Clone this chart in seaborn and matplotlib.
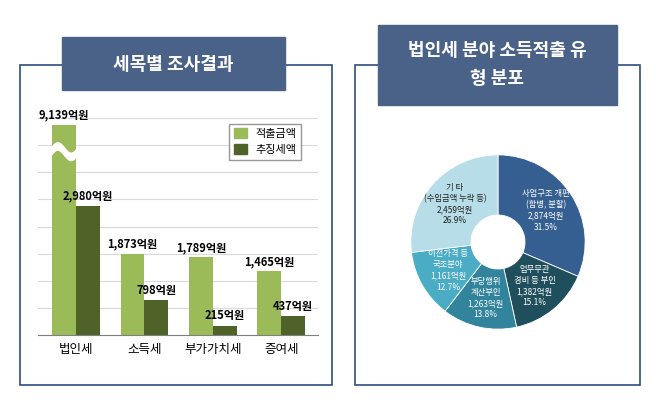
import numpy as np
import matplotlib.pyplot as plt
import matplotlib.patches as mpatches
import seaborn as sns
import pandas as pd

plt.rcParams['font.family'] = ['Noto Sans CJK KR', 'Noto Sans CJK JP', 'Noto Sans CJK SC', 'DejaVu Sans']

# 세목별 조사결과 (억원)
categories = ["법인세", "소득세", "부가가치세", "증여세"]
detected = [9139, 1873, 1789, 1465]     # 적출금액
collected = [2980, 798, 215, 437]       # 추징세액
series_names = ["적출금액", "추징세액"]

# 법인세 분야 소득적출 유형 분포
pie_labels = ["사업구조 개편\n(합병, 분할)", "업무무관\n경비 등 부인", "부당행위\n계산부인",
              "이전가격 등\n국조분야", "기 타\n(수입금액 누락 등)"]
pie_values = [2874, 1382, 1263, 1161, 2459]
pie_pcts = ["31.5%", "15.1%", "13.8%", "12.7%", "26.9%"]

W, H = 656, 408
fig = plt.figure(figsize=(W / 100, H / 100), dpi=100)
fig.patch.set_facecolor('white')

def fx(x): return x / W
def fy(y): return 1 - y / H

banner = '#4a6288'
frame = '#2f4f7f'
# panel frames
for x0, x1 in [(20, 332), (355, 640)]:
    fig.add_artist(mpatches.Rectangle((fx(x0), fy(385)), fx(x1) - fx(x0), fy(65) - fy(385),
                                      transform=fig.transFigure, fill=False, ec=frame, lw=1.2))
# banners
fig.add_artist(mpatches.Rectangle((fx(62), fy(90)), fx(285) - fx(62), fy(37) - fy(90),
                                  transform=fig.transFigure, color=banner, zorder=5))
fig.text(fx(173), fy(64), "세목별 조사결과", color='white', fontsize=13, fontweight='bold',
         ha='center', va='center', zorder=6)
fig.add_artist(mpatches.Rectangle((fx(378), fy(105)), fx(617) - fx(378), fy(25) - fy(105),
                                  transform=fig.transFigure, color=banner, zorder=5))
fig.text(fx(497), fy(65), "법인세 분야 소득적출 유\n형 분포", color='white', fontsize=13,
         fontweight='bold', ha='center', va='center', linespacing=1.6, zorder=6)

# bar chart
ax = fig.add_axes([fx(38), fy(335), fx(318) - fx(38), fy(118) - fy(335)])
df = pd.DataFrame({"세목": categories * 2,
                   "구분": [series_names[0]] * 4 + [series_names[1]] * 4,
                   "값": detected + collected})
top = 4850
df["표시"] = np.minimum(df["값"], top)
sns.barplot(data=df, x="세목", y="표시", hue="구분", palette=['#9bbb59', '#4f6228'],
            width=0.7, ax=ax, legend=False, saturation=1)
ax.set_ylim(0, 5000)
ax.set_yticks(np.arange(625, 5001, 625))
ax.yaxis.grid(True, color='#d9d9d9', lw=0.8)
ax.set_axisbelow(True)
ax.tick_params(axis='y', length=0, labelleft=False)
ax.tick_params(axis='x', length=0, labelsize=9, pad=6)
ax.set_xlabel(""); ax.set_ylabel("")
for s in ['top', 'right', 'left']:
    ax.spines[s].set_visible(False)
ax.spines['bottom'].set_color('#7f7f7f')
for cont, vals in zip(ax.containers, [detected, collected]):
    for rect, v in zip(cont, vals):
        ax.text(rect.get_x() + rect.get_width() / 2, rect.get_height() + 80, f"{v:,}억원",
                ha='center', va='bottom', fontsize=8, fontweight='bold', zorder=5)
# wavy break on the first bar
r = ax.containers[0][0]
xs = np.linspace(r.get_x() - 0.02, r.get_x() + r.get_width() + 0.02, 50)
wave = 4150 + 120 * np.sin((xs - xs[0]) / (xs[-1] - xs[0]) * 2 * np.pi)
ax.fill_between(xs, wave, wave + 170, color='white', zorder=3)
# legend box
handles = [mpatches.Patch(color=c, label=n) for c, n in zip(['#9bbb59', '#4f6228'], series_names)]
ax.legend(handles=handles, loc='upper right', bbox_to_anchor=(0.96, 1.0), fontsize=8,
          frameon=True, edgecolor='#7f7f7f', fancybox=False, handlelength=1.2, handleheight=1.0)

# donut
cx, cy, rad = 498, 242, 88
axp = fig.add_axes([fx(cx - rad), fy(cy + rad), 2 * rad / W, 2 * rad / H])
colors = ['#365f91', '#1f4f5c', '#31849b', '#4bacc6', '#b7dde8']
wedges, _ = axp.pie(pie_values, colors=colors, startangle=90, counterclock=False,
                    wedgeprops=dict(width=0.69, edgecolor='white', linewidth=0.6))
axp.set_xlim(-1.01, 1.01)
axp.set_ylim(-1.01, 1.01)
axp.set_aspect('equal')
tot = sum(pie_values)
ang = 90
for i, (lab, v, p) in enumerate(zip(pie_labels, pie_values, pie_pcts)):
    span = v / tot * 360
    mid = np.deg2rad(ang - span / 2)
    ang -= span
    rr = 0.66
    tc = '#222222' if i == 4 else 'white'
    lines = lab.split("\n")
    text = "\n".join(lines + [f"{v:,}억원", p])
    axp.text(rr * np.cos(mid), rr * np.sin(mid), text, ha='center', va='center',
             fontsize=6, color=tc, linespacing=1.3)

fig.savefig("out.png", dpi=100)
